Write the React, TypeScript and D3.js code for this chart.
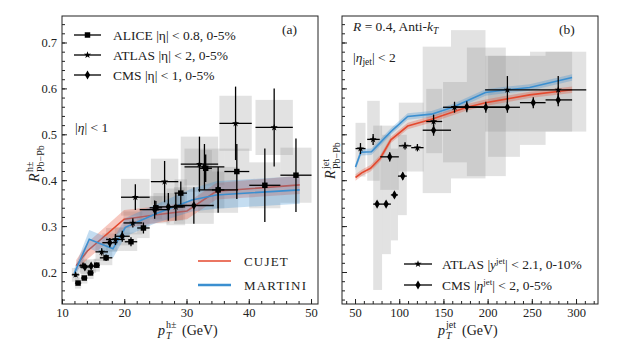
import React from 'react';
import * as d3 from 'd3';

const FONT = '"Liberation Serif", "DejaVu Serif", serif';
const RED = '#e4492e';
const BLUE = '#3b8fd0';

// ---------- panel (a): charged hadrons ----------
const aliceX = [12.5, 13.5, 14.5, 15.5, 17, 21, 23, 25, 29, 33, 35, 38, 42.5, 47.5];
const aliceY = [0.177, 0.188, 0.199, 0.216, 0.232, 0.267, 0.297, 0.341, 0.373, 0.427, 0.38, 0.42, 0.39, 0.412];
const aliceXErr = [0.5, 0.5, 0.5, 0.5, 1, 1, 1, 1, 1, 1, 1, 2, 2.5, 2.5];
const aliceYErr = [0.004, 0.004, 0.005, 0.006, 0.007, 0.01, 0.012, 0.015, 0.025, 0.03, 0.04, 0.06, 0.08, 0.08];
const aliceSys = [0.012, 0.012, 0.013, 0.014, 0.016, 0.02, 0.022, 0.025, 0.03, 0.04, 0.04, 0.05, 0.05, 0.06];

const atlasX = [12.1, 13.3, 16.3, 18.5, 21.3, 21.7, 26.4, 28.2, 32, 37.8, 44];
const atlasY = [0.195, 0.215, 0.245, 0.272, 0.308, 0.364, 0.398, 0.343, 0.436, 0.525, 0.516];
const atlasXErr = [0.6, 0.6, 1, 1.5, 1.5, 2.3, 2.2, 1.5, 3, 2.6, 3];
const atlasYErr = [0.005, 0.006, 0.008, 0.012, 0.01, 0.028, 0.045, 0.03, 0.06, 0.08, 0.085];
const atlasSys = [0.015, 0.015, 0.02, 0.025, 0.025, 0.04, 0.05, 0.04, 0.06, 0.06, 0.06];

const cmsX = [13.6, 14.6, 17.6, 19.6, 24.8, 27, 31.1, 32.8, 35];
const cmsY = [0.212, 0.214, 0.265, 0.279, 0.337, 0.343, 0.346, 0.43, 0.38];
const cmsXErr = [0.8, 0.8, 1.2, 1.2, 2.4, 2.4, 3.2, 3.2, 3.2];
const cmsYErr = [0.005, 0.006, 0.01, 0.012, 0.02, 0.03, 0.04, 0.05, 0.05];
const cmsSys = [0.015, 0.015, 0.02, 0.02, 0.03, 0.03, 0.04, 0.04, 0.05];

const cujetHX = [12.2, 14, 19.9, 25.1, 30, 34.7, 48.1];
const cujetHY = [0.215, 0.247, 0.316, 0.326, 0.334, 0.377, 0.391];
const cujetHW = [0.012, 0.018, 0.02, 0.018, 0.018, 0.018, 0.02];
const martiniHX = [11.9, 14.3, 18.1, 20.1, 25, 30.8, 34.7, 48.1];
const martiniHY = [0.198, 0.2725, 0.2516, 0.2985, 0.328, 0.358, 0.369, 0.38];
const martiniHW = [0.01, 0.02, 0.02, 0.02, 0.02, 0.025, 0.03, 0.03];

// ---------- panel (b): jets ----------
const jAtlasX = [55.6, 69.9, 106, 120, 138.3, 162, 221.8, 279.3];
const jAtlasY = [0.47, 0.49, 0.476, 0.472, 0.529, 0.56, 0.598, 0.598];
const jAtlasXLo = [50, 63.2, 99, 113, 130, 149, 196.6, 247.4];
const jAtlasXHi = [61.3, 77.4, 113, 127, 148, 176, 247.4, 311];
const jAtlasYErr = [0.012, 0.012, 0.008, 0.008, 0.015, 0.012, 0.03, 0.03];
const jAtlasSysLo = [0.409, 0.4, 0.42, 0.42, 0.46, 0.44, 0.507, 0.507];
const jAtlasSysHi = [0.526, 0.574, 0.57, 0.57, 0.6, 0.615, 0.672, 0.681];

const jCmsX = [74.4, 84.6, 88.7, 94, 103.4, 138.3, 175.9, 197.4, 221.8, 251.1, 279.3];
const jCmsY = [0.349, 0.349, 0.452, 0.369, 0.41, 0.51, 0.561, 0.56, 0.56, 0.57, 0.576];
const jCmsXLo = [70, 80, 78, 90, 98, 126, 158, 176, 200, 236, 265];
const jCmsXHi = [80, 90, 99, 98, 108, 158, 197, 220, 236, 265, 295];
const jCmsYErr = [0.006, 0.006, 0.01, 0.006, 0.008, 0.012, 0.012, 0.012, 0.012, 0.012, 0.014];
const jCmsSysLo = [0.162, 0.24, 0.38, 0.27, 0.325, 0.373, 0.405, 0.41, 0.452, 0.478, 0.507];
const jCmsSysHi = [0.52, 0.5, 0.52, 0.47, 0.5, 0.692, 0.728, 0.69, 0.672, 0.672, 0.681];

const cujetJX = [50, 57, 67, 78, 90, 109, 136, 176, 197, 247, 295];
const cujetJY = [0.407, 0.417, 0.427, 0.449, 0.489, 0.519, 0.534, 0.56, 0.57, 0.587, 0.598];
const martiniJX = [50, 56, 68, 90, 109, 136, 160, 197, 221, 247, 295];
const martiniJY = [0.43, 0.462, 0.463, 0.507, 0.54, 0.545, 0.56, 0.592, 0.598, 0.603, 0.625];

// ---------- scales ----------
const xA = d3.scaleLinear().domain([9.92, 51.04]).range([62, 318]);
const xB = d3.scaleLinear().domain([34.7, 324.3]).range([342, 598]);
const y = d3.scaleLinear().domain([0.1314, 0.7588]).range([304, 16]);

const sym = (t: any, s: number) => d3.symbol().type(t).size(s)() as string;
const SQUARE = sym(d3.symbolSquare, 30);
const STAR = sym(d3.symbolStar, 16);
const DIAMOND = sym(d3.symbolDiamond, 24);

type Pts = { xs: number[]; ys: number[]; lo: number[]; hi: number[]; ye: number[]; sl: number[]; sh: number[] };

const sym2 = (xs: number[], e: number[], ys: number[], s: number[], ye: number[]): Pts => ({
  xs, ys, lo: xs.map((v, i) => v - e[i]), hi: xs.map((v, i) => v + e[i]),
  ye, sl: ys.map((v, i) => v - s[i]), sh: ys.map((v, i) => v + s[i]),
});

const Boxes = ({ p, x }: { p: Pts; x: any }) => (
  <g>
    {p.xs.map((_, i) => (
      <rect key={i} x={x(p.lo[i])} width={x(p.hi[i]) - x(p.lo[i])} y={y(p.sh[i])}
        height={y(p.sl[i]) - y(p.sh[i])} fill="#8c8c8c" fillOpacity={0.25} />
    ))}
  </g>
);

const Points = ({ p, x, marker }: { p: Pts; x: any; marker: string }) => (
  <g stroke="#000" strokeWidth={1.3}>
    {p.xs.map((v, i) => (
      <g key={i}>
        <line x1={x(p.lo[i])} x2={x(p.hi[i])} y1={y(p.ys[i])} y2={y(p.ys[i])} />
        <line x1={x(v)} x2={x(v)} y1={y(p.ys[i] - p.ye[i])} y2={y(p.ys[i] + p.ye[i])} />
        <path d={marker} transform={`translate(${x(v)},${y(p.ys[i])})`} fill="#000" stroke="none" />
      </g>
    ))}
  </g>
);

const Theory = ({ xs, ys, w, x, color }: { xs: number[]; ys: number[]; w: number[]; x: any; color: string }) => {
  const pts = xs.map((v, i) => [v, ys[i], w[i]]);
  const area = d3.area<number[]>().x(d => x(d[0])).y0(d => y(d[1] - d[2])).y1(d => y(d[1] + d[2]));
  const line = d3.line<number[]>().x(d => x(d[0])).y(d => y(d[1]));
  return (
    <g>
      <path d={area(pts) as string} fill={color} fillOpacity={0.3} />
      <path d={line(pts) as string} fill="none" stroke={color} strokeWidth={1.6} />
    </g>
  );
};

const Frame = ({ x, x0, x1, major, minor, labels }: any) => (
  <g>
    <rect x={x0} y={16} width={x1 - x0} height={288} fill="none" stroke="#222" strokeWidth={1} />
    {minor.map((t: number) => <line key={'m' + t} x1={x(t)} x2={x(t)} y1={304} y2={301} stroke="#222" />)}
    {major.map((t: number) => <line key={'M' + t} x1={x(t)} x2={x(t)} y1={304} y2={299} stroke="#222" />)}
    {major.map((t: number) => (
      <text key={'L' + t} x={x(t)} y={317} textAnchor="middle" fontSize={12.5}>{t}</text>
    ))}
    {d3.range(0.14, 0.75, 0.02).map(t => <line key={'ym' + t} x1={x0} x2={x0 + 3} y1={y(t)} y2={y(t)} stroke="#222" />)}
    {d3.range(0.2, 0.71, 0.1).map(t => <line key={'yM' + t} x1={x0} x2={x0 + 5} y1={y(t)} y2={y(t)} stroke="#222" />)}
    {labels && d3.range(0.2, 0.71, 0.1).map(t => (
      <text key={'yl' + t} x={x0 - 5} y={y(t) + 4.5} textAnchor="end" fontSize={12.5}>{t.toFixed(1)}</text>
    ))}
  </g>
);

export default function App() {
  const alice = sym2(aliceX, aliceXErr, aliceY, aliceSys, aliceYErr);
  const atlas = sym2(atlasX, atlasXErr, atlasY, atlasSys, atlasYErr);
  const cms = sym2(cmsX, cmsXErr, cmsY, cmsSys, cmsYErr);
  const jAtlas: Pts = { xs: jAtlasX, ys: jAtlasY, lo: jAtlasXLo, hi: jAtlasXHi, ye: jAtlasYErr, sl: jAtlasSysLo, sh: jAtlasSysHi };
  const jCms: Pts = { xs: jCmsX, ys: jCmsY, lo: jCmsXLo, hi: jCmsXHi, ye: jCmsYErr, sl: jCmsSysLo, sh: jCmsSysHi };
  const jw = cujetJX.map(() => 0.007);

  return (
    <svg width={623} height={350} style={{ position: 'absolute', left: 0, top: 0, background: '#fff', fontFamily: FONT }}
      fill="#222">
      {/* panel a */}
      <Boxes p={alice} x={xA} />
      <Boxes p={atlas} x={xA} />
      <Boxes p={cms} x={xA} />
      <Theory xs={cujetHX} ys={cujetHY} w={cujetHW} x={xA} color={RED} />
      <Theory xs={martiniHX} ys={martiniHY} w={martiniHW} x={xA} color={BLUE} />
      <Points p={alice} x={xA} marker={SQUARE} />
      <Points p={atlas} x={xA} marker={STAR} />
      <Points p={cms} x={xA} marker={DIAMOND} />
      <Frame x={xA} x0={62} x1={318} major={d3.range(10, 51, 10)} minor={d3.range(10, 51, 2)} labels />

      {/* legend a */}
      {[['ALICE', ' |η| < 0.8, 0-5%', SQUARE], ['ATLAS', ' |η| < 2, 0-5%', STAR], ['CMS', ' |η| < 1, 0-5%', DIAMOND]].map((d, i) => (
        <g key={i}>
          <line x1={74} x2={101} y1={35 + i * 20} y2={35 + i * 20} stroke="#000" strokeWidth={1.3} />
          <path d={d[2]} transform={`translate(87.5,${35 + i * 20})`} fill="#000" />
          <text x={113} y={39.5 + i * 20} fontSize={13.5}>{d[0]}{d[1]}</text>
        </g>
      ))}
      <text x={282} y={34} fontSize={13.5}>(a)</text>
      <text x={75} y={132} fontSize={13.5}>|<tspan fontStyle="italic">η</tspan>| &lt; 1</text>
      <line x1={198} x2={231} y1={261} y2={261} stroke={RED} strokeWidth={1.6} />
      <line x1={198} x2={231} y1={285} y2={285} stroke={BLUE} strokeWidth={2.5} />
      <text x={244} y={266} fontSize={13} letterSpacing={1.2}>CUJET</text>
      <text x={244} y={290} fontSize={13} letterSpacing={1.2}>MARTINI</text>

      {/* panel b */}
      <Boxes p={jAtlas} x={xB} />
      <Boxes p={jCms} x={xB} />
      <Theory xs={martiniJX} ys={martiniJY} w={jw} x={xB} color={BLUE} />
      <Theory xs={cujetJX} ys={cujetJY} w={jw} x={xB} color={RED} />
      <Points p={jAtlas} x={xB} marker={STAR} />
      <Points p={jCms} x={xB} marker={DIAMOND} />
      <Frame x={xB} x0={342} x1={598} major={d3.range(50, 301, 50)} minor={d3.range(40, 321, 10)} labels={false} />

      <text x={353} y={31} fontSize={13.5}><tspan fontStyle="italic">R</tspan> = 0.4, Anti-<tspan fontStyle="italic">k</tspan><tspan fontStyle="italic" fontSize={9.5} dy={3}>T</tspan></text>
      <text x={559} y={34} fontSize={13.5}>(b)</text>
      <text x={353} y={62} fontSize={13.5}>|<tspan fontStyle="italic">η</tspan><tspan fontSize={9.5} dy={3}>jet</tspan><tspan dy={-3}>| &lt; 2</tspan></text>
      {[['ATLAS |', 'y', '| < 2.1, 0-10%', STAR], ['CMS |', 'η', '| < 2, 0-5%', DIAMOND]].map((d, i) => (
        <g key={i}>
          <line x1={404} x2={432} y1={264 + i * 21} y2={264 + i * 21} stroke="#000" strokeWidth={1.3} />
          <path d={d[3]} transform={`translate(418,${264 + i * 21})`} fill="#000" />
          <text x={442} y={268.5 + i * 21} fontSize={13.5}>{d[0]}<tspan fontStyle="italic">{d[1]}</tspan><tspan fontSize={9} dy={-5}>jet</tspan><tspan dy={5}>{d[2]}</tspan></text>
        </g>
      ))}

      {/* axis labels */}
      <g transform="translate(39,160) rotate(-90)" fontSize={14}>
        <text x={-22} y={0} fontStyle="italic">R</text>
        <text x={-12} y={-6} fontSize={10}>h±</text>
        <text x={-12} y={5} fontSize={10}>Pb−Pb</text>
      </g>
      <g transform="translate(335,155) rotate(-90)" fontSize={14}>
        <text x={-24} y={0} fontStyle="italic">R</text>
        <text x={-14} y={-6} fontSize={10}>jet</text>
        <text x={-14} y={5} fontSize={10}>Pb−Pb</text>
      </g>
      <g fontSize={14}>
        <text x={158} y={335} fontStyle="italic">p</text>
        <text x={166} y={339} fontSize={10} fontStyle="italic">T</text>
        <text x={166} y={328} fontSize={10}>h±</text>
        <text x={182} y={335}>(GeV)</text>
        <text x={438} y={335} fontStyle="italic">p</text>
        <text x={446} y={339} fontSize={10} fontStyle="italic">T</text>
        <text x={446} y={328} fontSize={10}>jet</text>
        <text x={462} y={335}>(GeV)</text>
      </g>
    </svg>
  );
}
